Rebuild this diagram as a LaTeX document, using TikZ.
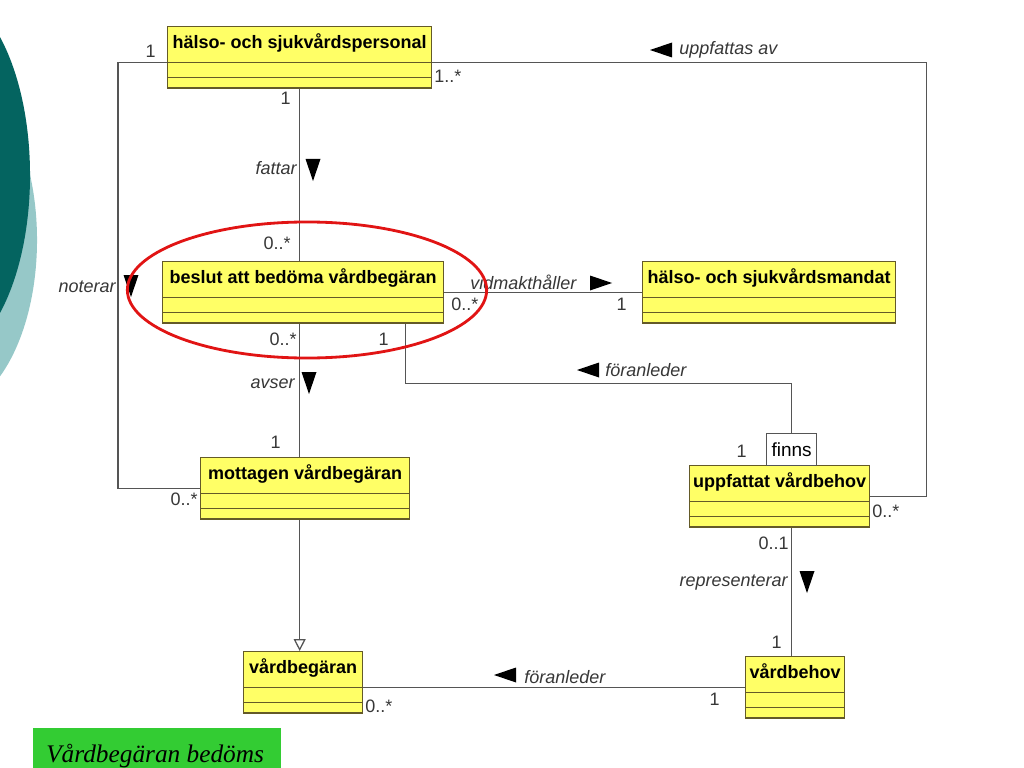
\documentclass[tikz,border=0pt]{standalone}
\usepackage{fontspec}
\setmainfont{Liberation Sans}
\newfontfamily\notefont{Liberation Serif}
\usepackage{tikz}
\usetikzlibrary{arrows.meta,shapes.multipart}

\definecolor{clsfill}{RGB}{255,255,102}
\definecolor{clsline}{RGB}{100,90,40}
\definecolor{linegray}{RGB}{85,85,85}
\definecolor{labelgray}{RGB}{55,55,55}
\definecolor{tealdark}{RGB}{4,100,96}
\definecolor{teallight}{RGB}{150,200,200}
\definecolor{notegreen}{RGB}{51,204,51}
\definecolor{markred}{RGB}{225,20,20}

% class name plus two empty compartments
\newcommand{\clsbody}[1]{\rule[-0.33cm]{0pt}{0.86cm}#1%
  \nodepart{second}\rule{0pt}{0.34cm}%
  \nodepart{third}\rule{0pt}{0.24cm}}

\tikzset{tri/.pic={\fill[black] (-11,0) -- (11,-7.5) -- (11,7.5) -- cycle;}}

\begin{document}
\begin{tikzpicture}[x=0.025cm,y=-0.025cm]

  \tikzstyle{cls}=[rectangle split,rectangle split parts=3,
    draw=clsline,fill=clsfill,line width=0.9pt,anchor=north west,
    inner xsep=1pt,inner ysep=0pt,
    font=\fontsize{12.8}{15}\selectfont\bfseries]
  \tikzstyle{qual}=[draw=linegray,fill=white,line width=0.9pt,anchor=north west,
    minimum width=1.25cm,minimum height=0.8cm,inner sep=0pt,
    font=\fontsize{13.5}{15}\selectfont]
  \tikzstyle{mult}=[inner sep=0pt,text=labelgray,font=\fontsize{12.8}{15}\selectfont]
  \tikzstyle{role}=[mult,font=\fontsize{12.8}{15}\selectfont\itshape]
  \tikzstyle{assoc}=[draw=linegray,line width=0.9pt]
  \tikzstyle{gen}=[assoc,-{Triangle[open,length=0.3cm,width=0.3cm]}]

  \useasboundingbox (0,0) rectangle (1024,768);

  %% slide background
  \fill[teallight] (-55,240) ellipse [x radius=2.3cm,y radius=4.25cm];
  \fill[tealdark]  (-60,175) ellipse [x radius=2.25cm,y radius=4.625cm];

  \node (note) at (33,728) [fill=notegreen,anchor=north west,inner sep=0pt,
         minimum width=6.2cm,minimum height=1.2cm] {};
  \node (notetext) at (46,762) [anchor=base west,inner sep=0pt,
         font=\notefont\itshape\fontsize{18}{20}\selectfont] {Vårdbegäran bedöms};

  %% classes
  \node (pers) at (167,26)  [cls,minimum width=6.6cm]   {\clsbody{hälso- och sjukvårdspersonal}};
  \node (besl) at (162,261) [cls,minimum width=7.025cm] {\clsbody{beslut att bedöma vårdbegäran}};
  \node (mand) at (642,261) [cls,minimum width=6.325cm] {\clsbody{hälso- och sjukvårdsmandat}};
  \node (mott) at (200,457) [cls,minimum width=5.225cm] {\clsbody{mottagen vårdbegäran}};
  \node (uppf) at (689,465) [cls,minimum width=4.5cm]   {\clsbody{uppfattat vårdbehov}};
  \node (vbeg) at (243,651) [cls,minimum width=2.975cm] {\clsbody{vårdbegäran}};
  \node (vbeh) at (745,656) [cls,minimum width=2.475cm] {\clsbody{vårdbehov}};

  \node (finns) at (766,433) [qual] {finns};

  %% connectors
  \draw[assoc] (pers.one split west) -- ++(-49,0) |- (mott.west);
  \draw[assoc] (pers.one split east) -- ++(494,0) |- (uppf.east);
  \draw[assoc] (pers.south) -- (pers.south |- besl.north);
  \draw[assoc] (pers.south |- besl.south) -- (pers.south |- mott.north);
  \draw[gen]   (pers.south |- mott.south) -- (pers.south |- vbeg.north);
  \draw[assoc] (besl.east) -- (mand.west);
  \draw[assoc] ([xshift=2.55cm]besl.south) -- ++(0,60) -| (finns.north);
  \draw[assoc] (finns.south |- uppf.south) -- (finns.south |- vbeh.north);
  \draw[assoc] (vbeh.west) -- (vbeh.west -| vbeg.east);

  %% multiplicities
  \node (m-pers-w)  at (156,58)  [mult,anchor=base east] {1};
  \node (m-pers-e)  at (434,83)  [mult,anchor=base west] {1..*};
  \node (m-pers-s)  at (291,105) [mult,anchor=base east] {1};
  \node (m-besl-n)  at (291,249) [mult,anchor=base east] {0..*};
  \node (m-besl-e)  at (451,310) [mult,anchor=base west] {0..*};
  \node (m-mand-w)  at (627,310) [mult,anchor=base east] {1};
  \node (m-besl-s)  at (297,345) [mult,anchor=base east] {0..*};
  \node (m-besl-f)  at (389,345) [mult,anchor=base east] {1};
  \node (m-mott-n)  at (281,448) [mult,anchor=base east] {1};
  \node (m-mott-w)  at (198,505) [mult,anchor=base east] {0..*};
  \node (m-finns)   at (747,457) [mult,anchor=base east] {1};
  \node (m-uppf-e)  at (872,517) [mult,anchor=base west] {0..*};
  \node (m-uppf-s)  at (789,549) [mult,anchor=base east] {0..1};
  \node (m-vbeh-n)  at (782,648) [mult,anchor=base east] {1};
  \node (m-vbeg-e)  at (365,712) [mult,anchor=base west] {0..*};
  \node (m-vbeh-w)  at (720,705) [mult,anchor=base east] {1};

  %% association names
  \node (r-noterar) at (116,292) [role,anchor=base east] {noterar};
  \node (r-uppf)    at (679,55)  [role,anchor=base west] {uppfattas av};
  \node (r-fattar)  at (297,175) [role,anchor=base east] {fattar};
  \node (r-vidm)    at (470,289) [role,anchor=base west] {vidmakthåller};
  \node (r-foran)   at (605,376) [role,anchor=base west] {föranleder};
  \node (r-avser)   at (295,388) [role,anchor=base east] {avser};
  \node (r-repr)    at (788,586) [role,anchor=base east] {representerar};
  \node (r-foran2)  at (524,683) [role,anchor=base west] {föranleder};

  \pic[rotate=90]  at (131,286) {tri};
  \pic             at (661,50)  {tri};
  \pic[rotate=90]  at (313,170) {tri};
  \pic[rotate=180] at (601,283) {tri};
  \pic             at (588,370) {tri};
  \pic[rotate=90]  at (309,383) {tri};
  \pic[rotate=90]  at (807,582) {tri};
  \pic             at (505,675) {tri};

  %% highlight
  \draw[markred,line width=2pt] (307,290) ellipse [x radius=4.49cm,y radius=1.7cm];
\end{tikzpicture}
\end{document}
